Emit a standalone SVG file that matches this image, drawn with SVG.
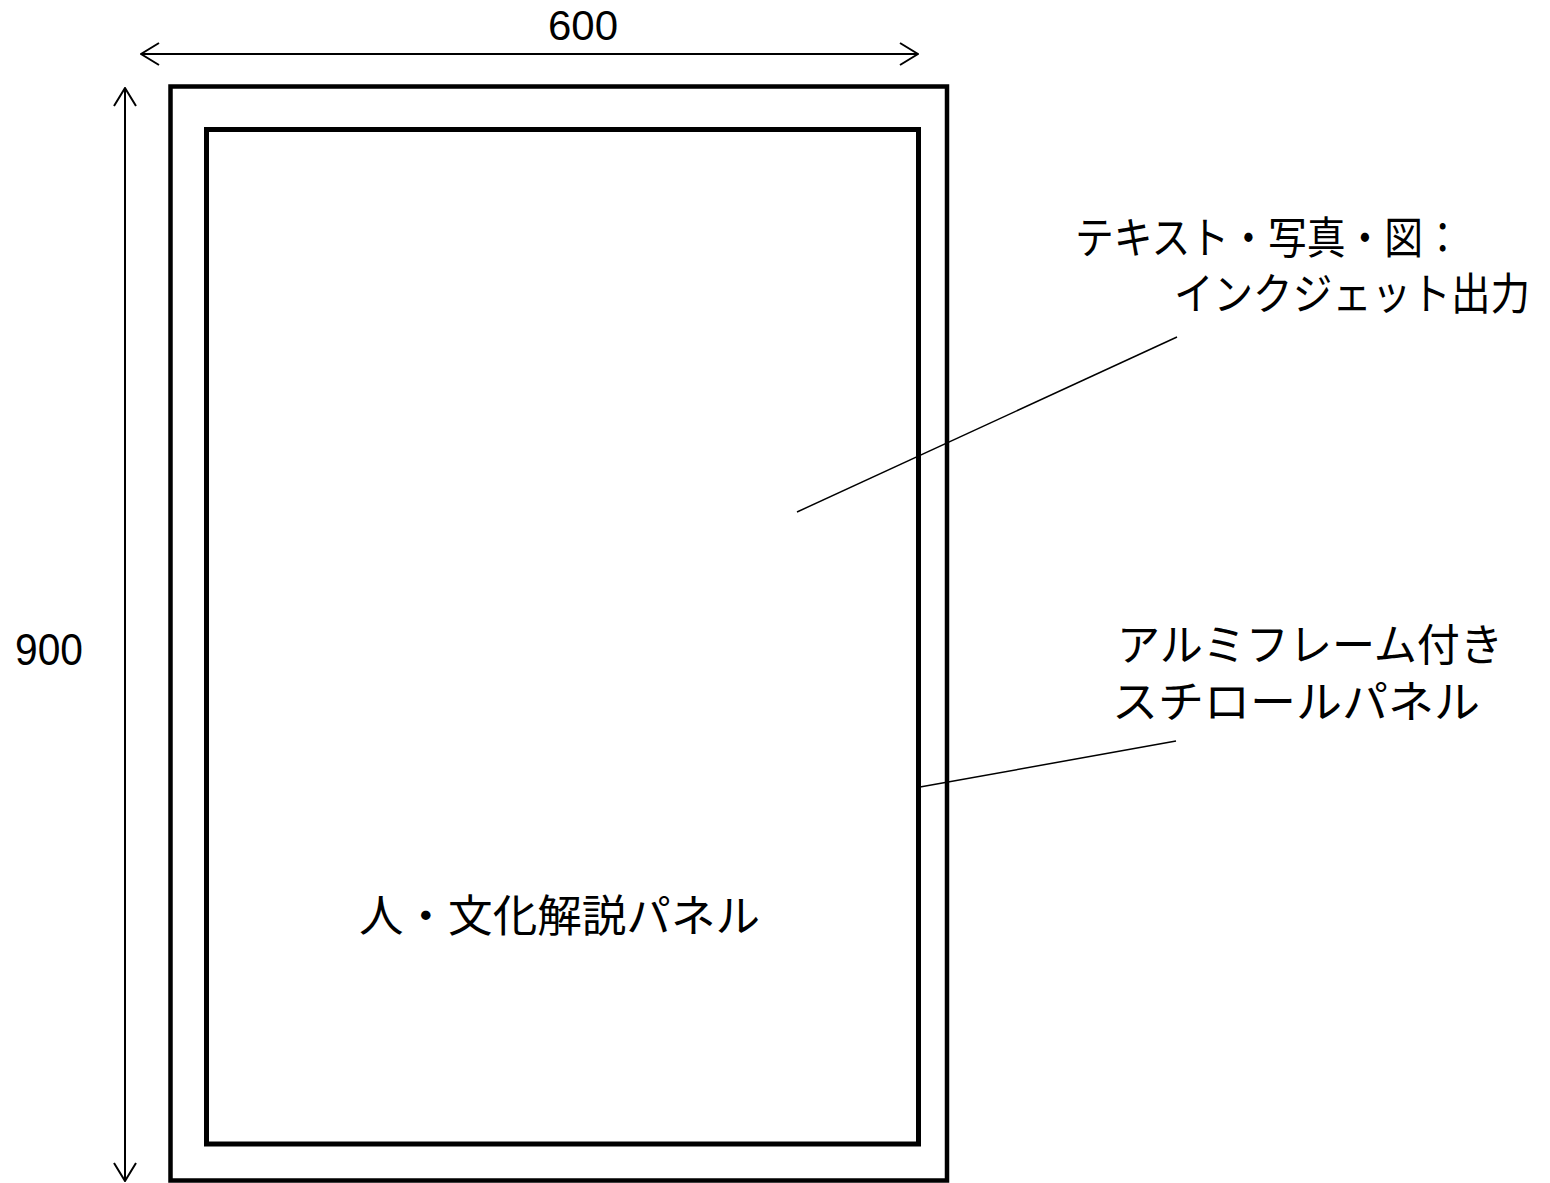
<svg xmlns="http://www.w3.org/2000/svg" width="1550" height="1183" viewBox="0 0 1550 1183">
<style>
.jp{font-family:"Noto Sans CJK JP","Noto Sans",sans-serif;font-size:44px;fill:#000}
.num{font-family:"Liberation Sans",Arial,sans-serif;fill:#000}
.frame{fill:none;stroke:#000}
.dim{stroke:#000;stroke-width:2;fill:none}
.lead{stroke:#000;stroke-width:1.5;fill:none}
</style>
<defs>
<marker id="ah" viewBox="0 0 20 24" refX="19" refY="12" markerWidth="20" markerHeight="24" markerUnits="userSpaceOnUse" orient="auto-start-reverse">
<path d="M1,1 L19,12 L1,23" fill="none" stroke="#000" stroke-width="2"/>
</marker>
</defs>
<rect width="1550" height="1183" fill="#fff"/>
<g id="outer-panel">
<rect class="frame" x="170.5" y="86.5" width="776.5" height="1094" stroke-width="4.5"/>
</g>
<g id="inner-panel">
<rect class="frame" x="206.5" y="129.5" width="712" height="1014.5" stroke-width="5"/>
<text class="jp" x="359" y="932" font-size="45" textLength="401" lengthAdjust="spacingAndGlyphs">人・文化解説パネル</text>
</g>
<g id="label-print">
<text class="jp" x="1075" y="254" textLength="387" lengthAdjust="spacingAndGlyphs">テキスト・写真・図：</text>
<text class="jp" x="1174" y="310" textLength="356" lengthAdjust="spacingAndGlyphs">インクジェット出力</text>
</g>
<g id="label-frame">
<text class="jp" x="1117" y="661" textLength="386" lengthAdjust="spacingAndGlyphs">アルミフレーム付き</text>
<text class="jp" x="1112" y="718" textLength="368" lengthAdjust="spacingAndGlyphs">スチロールパネル</text>
</g>
<g id="dimensions">
<text class="num" x="583" y="40" text-anchor="middle" font-size="42">600</text>
<text class="num" x="15" y="665" font-size="44" textLength="68" lengthAdjust="spacingAndGlyphs">900</text>
</g>
<g id="connectors">
<line class="dim" x1="141" y1="54" x2="918" y2="54" marker-start="url(#ah)" marker-end="url(#ah)"/>
<line class="dim" x1="125" y1="88" x2="125" y2="1181" marker-start="url(#ah)" marker-end="url(#ah)"/>
<line class="lead" x1="797" y1="512" x2="1177" y2="337"/>
<line class="lead" x1="920" y1="787" x2="1176" y2="741"/>
</g>
</svg>
